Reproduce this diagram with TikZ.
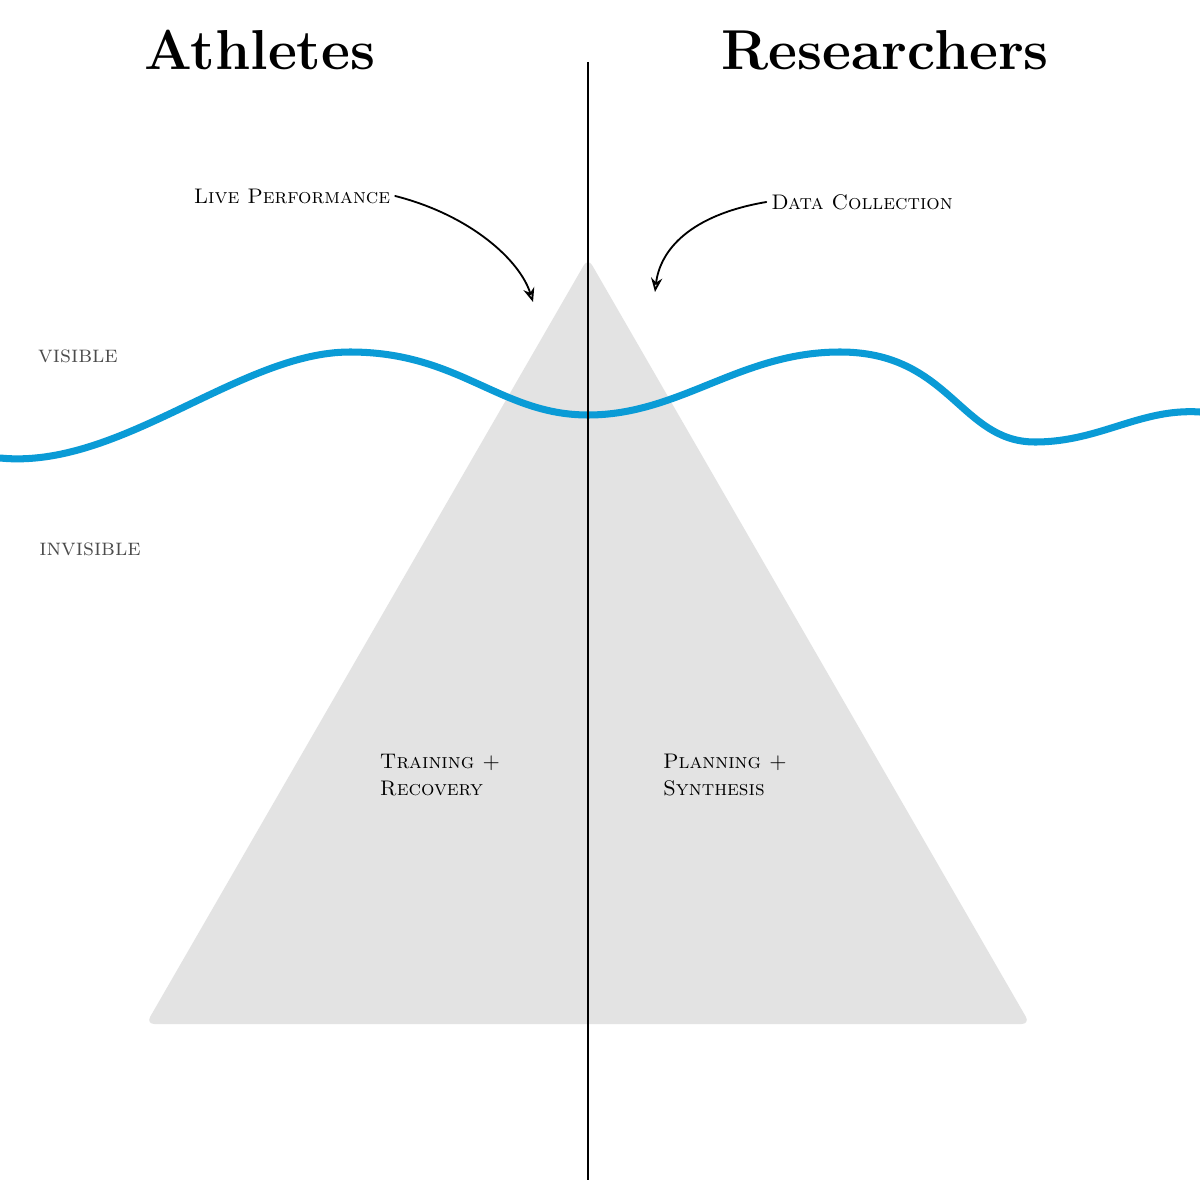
\documentclass[tikz,border=0pt]{standalone}
\usetikzlibrary{arrows.meta}
\definecolor{tri}{HTML}{E3E3E3}
\definecolor{wave}{HTML}{0A9BD6}
\tikzset{lbl/.style={font=\scshape\fontsize{15}{19}\selectfont, align=left},
 big/.style={font=\scshape\fontsize{40}{44}\selectfont\bfseries},
 side/.style={font=\scshape\fontsize{17}{19}\selectfont, text=black!70},
 arr/.style={-{Stealth[length=10pt,width=8pt,open]}, line width=1.3pt, line cap=round}}
\begin{document}
\begin{tikzpicture}[x=0.025cm,y=-0.025cm]
\useasboundingbox (0,0) rectangle (1200,1200);
\fill[white] (0,0) rectangle (1200,1200);
\fill[tri, rounded corners=6pt] (588,258) -- (1030,1024) -- (146,1024) -- cycle;
\draw[wave, line width=5pt] (0,458) .. controls (120,470) and (240,352) .. (350,352)
  .. controls (460,352) and (500,415) .. (588,415)
  .. controls (680,415) and (740,352) .. (840,352)
  .. controls (950,352) and (960,442) .. (1035,442)
  .. controls (1100,442) and (1140,408) .. (1200,412);
\draw[line width=1.6pt] (588,62) -- (588,1180);
\node[big] (ath) at (260,50) {Athletes};
\node[big] (res) at (885,50) {Researchers};
\node[lbl] (live) at (292,196) {Live Performance};
\node[lbl] (data) at (862,202) {Data Collection};
\node[side] (vis) at (78,356) {visible};
\node[side] (invis) at (90,549) {invisible};
\node[lbl] (tr) at (440,775) {Training +\\Recovery};
\node[lbl] (pl) at (725,775) {Planning +\\Synthesis};
\coordinate (a1) at (533,302);
\coordinate (a2) at (655,292);
\draw[arr] (live.east) .. controls (470,215) and (520,260) .. (a1);
\draw[arr] (data.west) .. controls (690,215) and (660,250) .. (a2);
\end{tikzpicture}
\end{document}
